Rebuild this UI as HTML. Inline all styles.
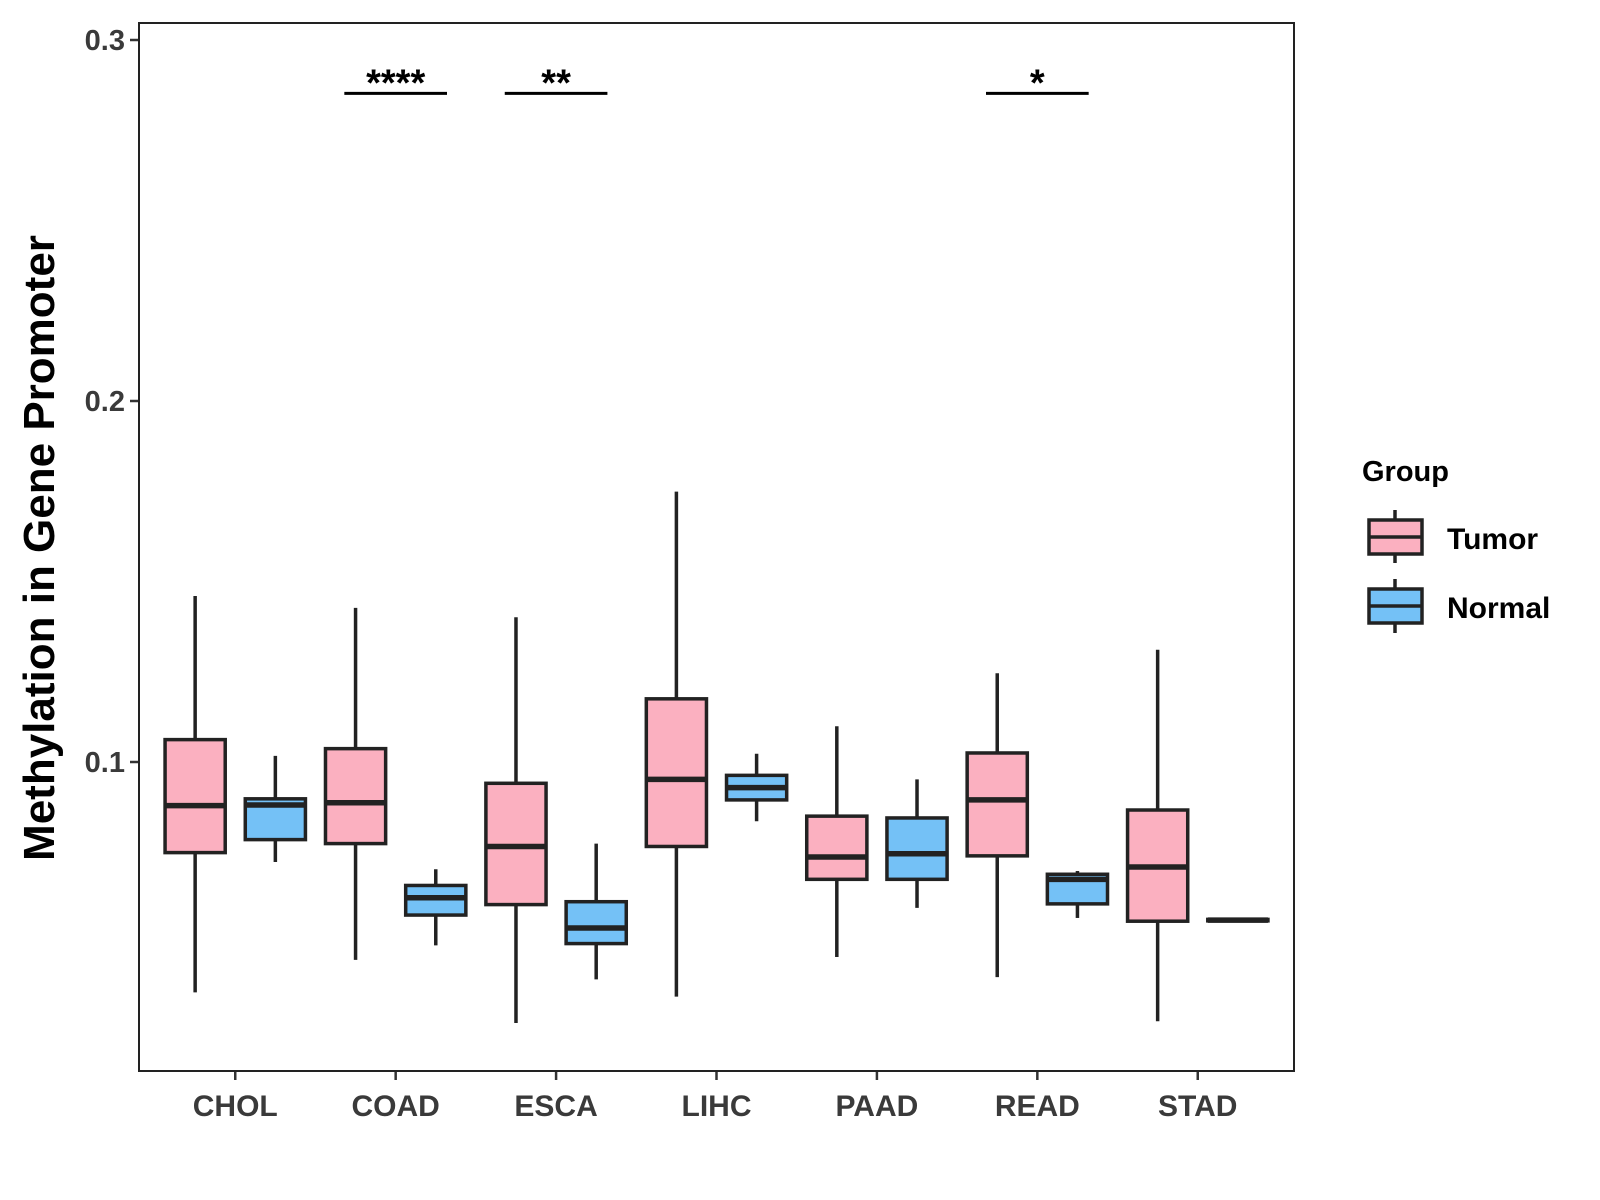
<!DOCTYPE html>
<html><head><meta charset="utf-8"><style>
html,body{margin:0;padding:0;background:#fff;}
svg{display:block;font-family:"Liberation Sans",Arial,sans-serif;}
</style></head><body>
<svg id="chart" width="1600" height="1200" viewBox="0 0 1600 1200" xmlns="http://www.w3.org/2000/svg">
<rect x="0" y="0" width="1600" height="1200" fill="#fff"/>
<g id="marks"></g>
<rect x="139" y="23" width="1155" height="1048" fill="none" stroke="#222" stroke-width="2"/>
<text transform="translate(54,548) rotate(-90)" text-anchor="middle" font-size="44" font-weight="bold" fill="#000">Methylation in Gene Promoter</text>
<g>
<text x="1362" y="481" font-size="29" font-weight="bold" fill="#000">Group</text>
<g>
<line x1="1395" y1="510" x2="1395" y2="563" stroke="#222" stroke-width="3.5"/>
<rect x="1369" y="520" width="53" height="34" fill="#FBB0C0" stroke="#222" stroke-width="3.5"/>
<line x1="1369" y1="537" x2="1422" y2="537" stroke="#222" stroke-width="3.5"/>
<text x="1447" y="549" font-size="30" font-weight="bold" fill="#000">Tumor</text>
</g>
<g>
<line x1="1395" y1="579" x2="1395" y2="633" stroke="#222" stroke-width="3.5"/>
<rect x="1369" y="589" width="53" height="34" fill="#74C1F6" stroke="#222" stroke-width="3.5"/>
<line x1="1369" y1="606" x2="1422" y2="606" stroke="#222" stroke-width="3.5"/>
<text x="1447" y="618" font-size="30" font-weight="bold" fill="#000">Normal</text>
</g>
</g>
</svg>
<script>
const categories = ["CHOL","COAD","ESCA","LIHC","PAAD","READ","STAD"];
// [whiskerLow, Q1, median, Q3, whiskerHigh]
const tumorStats = [
 [0.0362,0.0749,0.0879,0.1062,0.146],
 [0.0452,0.0774,0.0887,0.1037,0.1427],
 [0.0277,0.0605,0.0766,0.0941,0.1401],
 [0.0350,0.0766,0.0952,0.1175,0.1749],
 [0.0460,0.0675,0.0737,0.0850,0.1099],
 [0.0404,0.0740,0.0895,0.1025,0.1246],
 [0.0282,0.0559,0.0709,0.0867,0.1311]
];
const normalStats = [
 [0.0723,0.0785,0.0881,0.0898,0.1017],
 [0.0492,0.0576,0.0624,0.0658,0.0703],
 [0.0398,0.0497,0.0540,0.0613,0.0774],
 [0.0836,0.0895,0.0929,0.0963,0.1023],
 [0.0596,0.0675,0.0746,0.0845,0.0952],
 [0.0568,0.0607,0.0675,0.0689,0.0698],
 [0.0558,0.0560,0.0562,0.0564,0.0566]
];
const yTicks = [0.1,0.2,0.3];
const yTickLabels = ["0.1","0.2","0.3"];
const sigCategories = ["COAD","ESCA","READ"];
const sigLabels = ["****","**","*"];
const sigValue = 0.2852;

const NS="http://www.w3.org/2000/svg";
const PL=139, PR=1294, PT=23, PB=1071;
const Y0=762, PX_PER=3610;
function y(v){return Y0-(v-0.1)*PX_PER;}
const unit=(PR-PL)/7.2;
function x(i){return PL+(i+0.6)*unit;}
const g=document.getElementById('marks');
function el(t,a,p){const e=document.createElementNS(NS,t);for(const k in a)e.setAttribute(k,a[k]);(p||g).appendChild(e);return e;}

function box(i,s,off,fill,name){
  const cx=x(i)+off*unit, w=0.375*unit;
  const grp=el('g',{});
  
  
  el('line',{x1:cx,x2:cx,y1:y(s[4]),y2:y(s[0]),stroke:'#222','stroke-width':3.5},grp);
  el('rect',{x:cx-w/2,y:y(s[3]),width:w,height:Math.max(y(s[1])-y(s[3]),1),fill:fill,stroke:'#222','stroke-width':3.5},grp);
  el('line',{x1:cx-w/2,x2:cx+w/2,y1:y(s[2]),y2:y(s[2]),stroke:'#222','stroke-width':5.5},grp);
}
categories.forEach((c,i)=>{
  box(i,tumorStats[i],-0.25,'#FBB0C0','box-tumor-'+c.toLowerCase());
  box(i,normalStats[i],0.25,'#74C1F6','box-normal-'+c.toLowerCase());
  const t=el('line',{x1:x(i),x2:x(i),y1:PB,y2:PB+9,stroke:'#333','stroke-width':2.5});
  
  
  const l=el('text',{x:x(i),y:PB+45,'text-anchor':'middle','font-size':30,'font-weight':'bold',fill:'#3a3a3a'});
  
  
  l.textContent=c;
});
yTicks.forEach((v,i)=>{
  const t=el('line',{x1:PL-9,x2:PL,y1:y(v),y2:y(v),stroke:'#333','stroke-width':2.5});
  
  
  const l=el('text',{x:PL-14,y:y(v)+10,'text-anchor':'end','font-size':29,'font-weight':'bold',fill:'#3a3a3a'});
  
  
  l.textContent=yTickLabels[i];
});
sigCategories.forEach((c,k)=>{
  const i=categories.indexOf(c);
  const sg=el('g',{});
  
  
  el('line',{x1:x(i)-0.32*unit,x2:x(i)+0.32*unit,y1:y(sigValue),y2:y(sigValue),stroke:'#000','stroke-width':3},sg);
  const t=el('text',{x:x(i),y:y(sigValue)+2,'text-anchor':'middle','font-size':38,'font-weight':'bold',fill:'#000'},sg);
  t.textContent=sigLabels[k];
});
</script>
</body></html>
